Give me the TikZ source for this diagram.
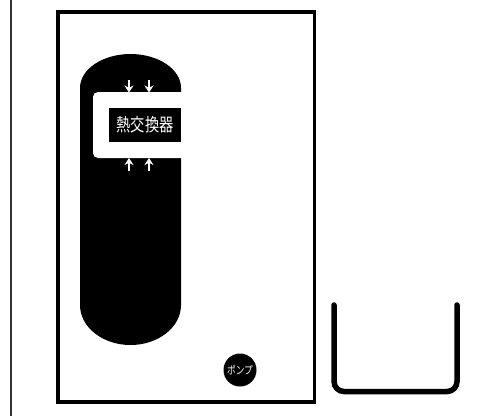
\documentclass[tikz,border=0pt]{standalone}
\usepackage{fontspec}
\newfontfamily\jpfont[FakeStretch=0.79]{Noto Sans CJK JP}
\usetikzlibrary{arrows.meta,positioning}

\begin{document}
\begin{tikzpicture}[
    x=1pt, y=-1pt,
    frame/.style={draw=black, line width=3.6pt},
    basin/.style={draw=black, line width=5.5pt, line cap=round, rounded corners=10pt},
    exchanger/.style={fill=black, text=white, inner sep=0pt, minimum width=72pt, minimum height=34pt, font=\jpfont\fontsize{18}{18}\selectfont},
    pump/.style={circle, fill=black, text=white, inner sep=0pt, minimum size=33pt, font=\jpfont\fontsize{11}{11}\selectfont},
    flow/.style={draw=white, line width=2.8pt, -{Stealth[length=7pt, width=9pt]}}
]
\useasboundingbox (0,0) rectangle (502,416);

% casing
\draw[draw=black!80, line width=1.8pt] (10.7,0) -- (10.7,416);
\draw[frame] (58,12) rectangle (314.5,401.7);

% tank
\fill[black] (80,88) arc[start angle=180, end angle=360, x radius=50.5, y radius=34]
    -- (181,305) arc[start angle=0, end angle=180, x radius=50.5, y radius=40] -- cycle;
\fill[white, rounded corners=5pt] (181.5,92) -- (93,92) -- (93,158) -- (181.5,158);
\fill[white] (170,92) rectangle (181.5,158);

\node[exchanger] (hx) at (145,125) {熱交換器};

% flow into the exchanger
\coordinate (t1) at (129,80);
\coordinate (t2) at (149,80);
\coordinate (b1) at (129,171);
\coordinate (b2) at (149,171);
\coordinate (t1e) at (129,92.5);
\coordinate (t2e) at (149,92.5);
\coordinate (b1e) at (129,158);
\coordinate (b2e) at (149,158);
\draw[flow] (t1) -- (t1e);
\draw[flow] (t2) -- (t2e);
\draw[flow] (b1) -- (b1e);
\draw[flow] (b2) -- (b2e);

\node[pump] (pmp) at (240,370) {ポンプ};

% basin
\draw[basin] (334,305) -- (334,391.5) -- (457,391.5) -- (457,305);
\end{tikzpicture}
\end{document}
